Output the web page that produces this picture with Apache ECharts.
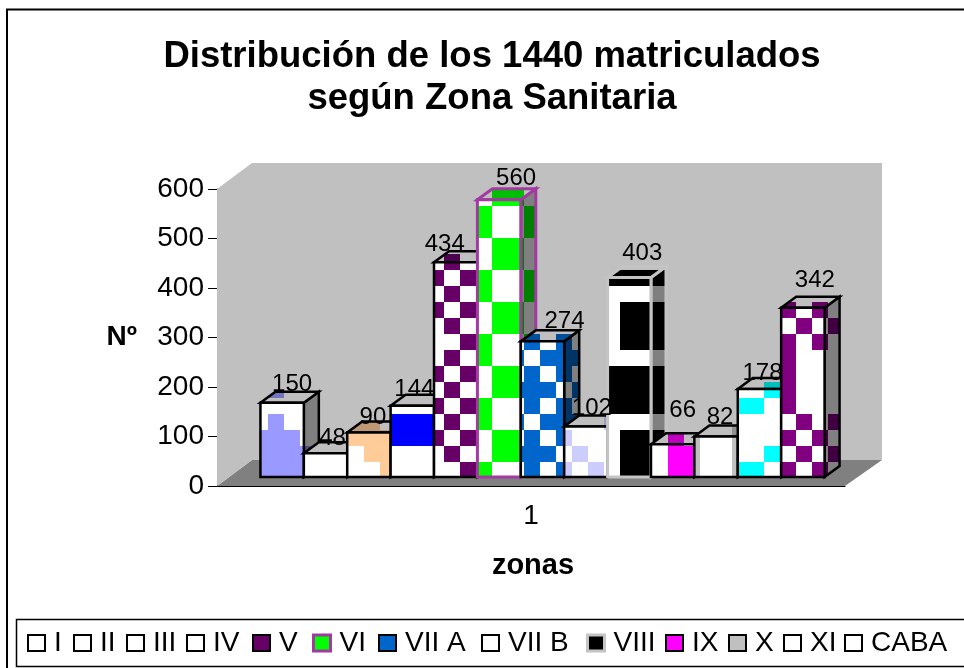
<!DOCTYPE html>
<html>
<head>
<meta charset="utf-8">
<style>html,body{margin:0;padding:0;background:#fff}#main{width:964px;height:668px}</style>
<script src="https://cdn.jsdelivr.net/npm/echarts@6/dist/echarts.min.js"></script>
</head>
<body>
<div id="main"></div>
<script>
var zonas = ['I','II','III','IV','V','VI','VII A','VII B','VIII','IX','X','XI','CABA'];
var matriculados = [150,48,90,144,434,560,274,102,403,66,82,178,342];
var colores = ['#9999ff','#ffffff','#ffcc99','#0000ff','#660066','#00ff00','#0066cc','#ccccff','#000000','#ff00ff','#c0c0c0','#00ffff','#800080'];
var bordes = ['#000','#000','#000','#000','#000','#a23aa2','#000','#000','#c4c4c4','#000','#000','#000','#000'];
var iconos = ['#fff','#fff','#fff','#fff','#660066','#00ff00','#0066cc','#fff','#000','#ff00ff','#c0c0c0','#fff','#fff'];
var etiquetaDx = [10,7,4,2,-11,17,22,6,13,10,4,3,12];
var etiquetaDy = [18,15,15,16,18,21,20,18,24,34,19,16,27];
var leyendaX = [27,73,126,186,252,312,378,481,586,665,728,783,844];

// tramas: celdas de 16px, x/y = esquina de la primera celda
var tramas = [
  {x:252,y:382,f:['.#...','.....','.#...','###..','####.','####.']},
  {x:300,y:430,f:['.']},
  {x:348,y:414,f:['##.','###','.##','..#']},
  {x:380,y:414,f:['####','####']},
  {x:428,y:254,f:['.#.','#.#','.#.','#.#','.#.','..#','.#.','#.#','.#.','#.#','.#.','#.#','.#.','..#']},
  {x:476,y:190,f:['.##.','#..#','#..#','.##.','.##.','#..#','#..#','.##.','.##.','#..#','#..#','.##.','.##.','#..#','#..#','.##.','.##.','#..#']},
  {x:508,y:334,f:['.#.#.','#.###','.#.#.','###.#','.#.#.','#.###','.#.#.','###.#','.#.#.']},
  {x:556,y:414,f:['...#','#...','.#..','#.#.']},
  {x:604,y:270,f:['####','....','.###','.###','.###','....','####','####','####','....','.###','.###','.###']},
  {x:652,y:430,f:['.#.','.##','.##']},
  {x:684,y:414,f:['#..#','#..#','#..#','#..#']},
  {x:732,y:382,f:['..#.','##..','....','...#','..#.','##..']},
  {x:780,y:302,f:['#.#.','.#.#','#.#.','#...','#...','#...','#...','.#.#','#.#.','.#.#','#.#.']}
];

function oscurecer(hex,k){
  var n=parseInt(hex.slice(1),16);
  return 'rgb('+Math.round((n>>16&255)*k)+','+Math.round((n>>8&255)*k)+','+Math.round((n&255)*k)+')';
}
function textura(i,k){
  var c=document.createElement('canvas');c.width=964;c.height=668;
  var g=c.getContext('2d'),t=tramas[i];
  g.fillStyle=oscurecer('#ffffff',k);g.fillRect(0,0,964,668);
  g.fillStyle=oscurecer(colores[i],k);
  t.f.forEach(function(fila,r){
    for(var j=0;j<fila.length;j++){
      if(fila[j]=='#') g.fillRect(t.x+16*j,t.y+16*r,16,16);
    }
  });
  return {image:c,repeat:'no-repeat'};
}
var frente=[],lado=[],techo=[];
zonas.forEach(function(z,i){
  frente.push(textura(i,1));lado.push(textura(i,0.5));techo.push(textura(i,0.75));
});

var prof=[35,26];   // fondo del grafico 3D
var dBar=[15,11];   // fondo de cada barra

function dibujaFondo(params,api){
  var o=api.coord([0,0]),t=api.coord([0,600]),b=api.size([1,0])[0];
  var x0=o[0]-b/2,x1=o[0]+b/2,y0=o[1],y1=t[1],dx=prof[0],dy=prof[1];
  return {type:'group',silent:true,children:[
    {type:'polygon',shape:{points:[[x0,y0],[x0+dx,y0-dy],[x1+dx+2,y0-dy],[x1,y0]]},style:{fill:'#808080'}},
    {type:'polygon',shape:{points:[[x0,y0],[x0,y1],[x0+dx,y1-dy],[x0+dx,y0-dy]]},style:{fill:'#c0c0c0'}},
    {type:'rect',shape:{x:x0+dx,y:y1-dy,width:b+2,height:y0-y1},style:{fill:'#c0c0c0'}}
  ]};
}
function dibujaBarra(i){
  return function(params,api){
    var o=api.coord([0,0]),t=api.coord([0,api.value(1)]),b=api.size([1,0])[0];
    var w=b*0.0691;
    var x=o[0]+11.5+(i-6.5)*w,yb=o[1]-9,yt=t[1]-9,dx=dBar[0],dy=dBar[1];
    var sty=function(f){return {fill:f,stroke:bordes[i],lineWidth:i==5||i==8?3:2.5,lineJoin:'miter'};};
    return {type:'group',silent:true,children:[
      {type:'polygon',shape:{points:[[x+w,yb],[x+w+dx,yb-dy],[x+w+dx,yt-dy],[x+w,yt]]},style:sty(lado[i])},
      {type:'polygon',shape:{points:[[x,yt],[x+dx,yt-dy],[x+w+dx,yt-dy],[x+w,yt]]},style:sty(techo[i])},
      {type:'rect',shape:{x:x,y:yt,width:w,height:yb-yt},style:sty(frente[i])},
      {type:'text',z2:100,style:{text:String(api.value(1)),x:x+w/2+etiquetaDx[i],y:yt-etiquetaDy[i],
        align:'center',verticalAlign:'middle',fill:'#000',font:'24px "Liberation Sans"'}}
    ]};
  };
}

var series=[{type:'custom',name:'fondo',renderItem:dibujaFondo,data:[[0,0]],clip:false,silent:true}];
zonas.forEach(function(z,i){
  series.push({type:'custom',name:z,renderItem:dibujaBarra(i),data:[[0,matriculados[i]]],clip:false,silent:true,
    encode:{x:0,y:1},itemStyle:{color:colores[i]}});
});

// una leyenda por zona, los huecos del original no son regulares
var leyendas=zonas.map(function(z,i){
  return {
    left:leyendaX[i],top:629,itemWidth:17,itemHeight:16,selectedMode:false,padding:0,
    data:[{name:z,icon:'rect',itemStyle:{color:iconos[i],borderColor:bordes[i],borderWidth:i==5||i==8?3:2}}],
    textStyle:{fontSize:28,color:'#000',padding:[0,0,6,4]}
  };
});

var myChart=echarts.init(document.getElementById('main'));
var option={
  animation:false,
  textStyle:{fontFamily:'Liberation Sans'},
  title:{
    text:'Distribución de los 1440 matriculados\nsegún Zona Sanitaria',
    left:487,top:31,textAlign:'center',
    textStyle:{fontSize:36.5,fontWeight:'bold',color:'#000',lineHeight:42,fontFamily:'Liberation Sans'}
  },
  grid:{left:217,right:119,top:189,bottom:182},
  xAxis:{type:'category',data:['1'],name:'zonas',nameLocation:'middle',nameGap:65,
    nameTextStyle:{fontSize:29,fontWeight:'bold',color:'#000',padding:[0,0,0,4]},
    axisLine:{lineStyle:{color:'#000',width:1}},
    axisTick:{length:6,lineStyle:{color:'#000',width:1}},
    axisLabel:{fontSize:28,color:'#000',margin:16},splitLine:{show:false}},
  yAxis:{type:'value',min:0,max:600,interval:100,name:'Nº',nameLocation:'middle',nameRotate:0,nameGap:80,
    nameTextStyle:{fontSize:28,fontWeight:'bold',color:'#000',padding:[0,0,6,0]},
    axisLine:{show:true,lineStyle:{color:'#000',width:1}},
    axisTick:{show:true,length:9,lineStyle:{color:'#000',width:1}},
    axisLabel:{fontSize:28,color:'#000',margin:13},splitLine:{show:false}},
  legend:leyendas,
  graphic:[
    {type:'rect',silent:true,z:-1,shape:{x:7,y:9.5,width:980,height:680},style:{fill:'none',stroke:'#000',lineWidth:2}},
    {type:'rect',silent:true,z:-1,shape:{x:16.5,y:619.5,width:980,height:47},style:{fill:'none',stroke:'#000',lineWidth:1.5}}
  ],
  series:series
};
myChart.setOption(option);
</script>
</body>
</html>
